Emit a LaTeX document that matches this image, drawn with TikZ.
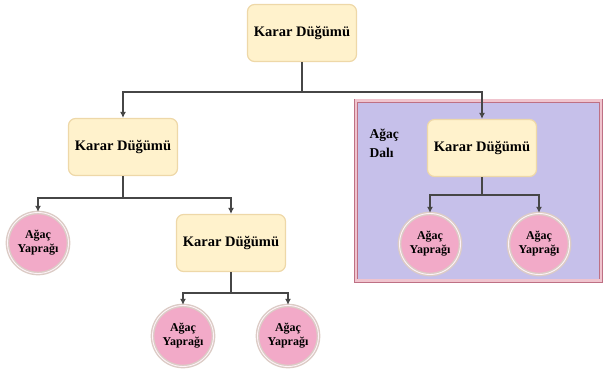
\documentclass[tikz,border=0pt]{standalone}
\usepackage{fontspec}
\setmainfont{Liberation Serif}
\usetikzlibrary{arrows.meta}
\definecolor{kararfill}{RGB}{255,242,204}
\definecolor{kararline}{RGB}{238,216,168}
\definecolor{yaprakfill}{RGB}{242,170,200}
\definecolor{yaprakring}{RGB}{220,204,198}
\definecolor{dalfill}{RGB}{198,192,234}
\definecolor{dalline}{RGB}{190,112,132}
\definecolor{dalinner}{RGB}{240,196,206}
\definecolor{okline}{RGB}{70,70,70}

\begin{document}
\begin{tikzpicture}[x=1pt,y=-1pt,>={Latex[length=6pt,width=6pt]},
  karar/.style={draw=kararline, fill=kararfill, rounded corners=7pt,
    line width=1.2pt, minimum width=109pt, minimum height=57pt,
    font=\bfseries\fontsize{14.5}{16}\selectfont},
  yaprak/.style={circle, fill=yaprakfill, draw=yaprakring, line width=1.4pt,
    double=white!85!yaprakfill, double distance=0.9pt, minimum size=61pt,
    inner sep=0pt, align=center, font=\bfseries\fontsize{12}{14}\selectfont},
  ok/.style={->, okline, line width=1.3pt}]
  \useasboundingbox (0,0) rectangle (605,370);
  % branch box
  \node[draw=dalline, fill=dalfill, line width=0.9pt, double=dalinner,
    double distance=2.2pt, minimum width=245pt, minimum height=180pt]
    (dal) at (478.5,190.5) {};
  \node[anchor=north west, align=left, font=\bfseries\fontsize{13.5}{19}\selectfont]
    (dalad) at (366,125) {Ağaç\\Dalı};
  % decision nodes
  \node[karar] (k0) at (302,33)  {Karar Düğümü};
  \node[karar] (k1) at (123,147) {Karar Düğümü};
  \node[karar] (k2) at (231,243) {Karar Düğümü};
  \node[karar] (k3) at (482,148) {Karar Düğümü};
  % leaves
  \node[yaprak] (y1) at (38,243)  {Ağaç\\Yaprağı};
  \node[yaprak] (y2) at (183,336) {Ağaç\\Yaprağı};
  \node[yaprak] (y3) at (288,336) {Ağaç\\Yaprağı};
  \node[yaprak] (y4) at (430,244) {Ağaç\\Yaprağı};
  \node[yaprak] (y5) at (539,244) {Ağaç\\Yaprağı};
  % junctions
  \coordinate (j0) at (302,92);
  \coordinate (j1) at (123,198);
  \coordinate (j2) at (231,293);
  \coordinate (j3) at (482,195);
  \draw[okline, line width=1.3pt] (k0) -- (j0);
  \draw[ok] (j0) -| (k1);
  \draw[ok] (j0) -| (k3);
  \draw[okline, line width=1.3pt] (k1) -- (j1);
  \draw[ok] (j1) -| (y1);
  \draw[ok] (j1) -| (k2);
  \draw[okline, line width=1.3pt] (k2) -- (j2);
  \draw[ok] (j2) -| (y2);
  \draw[ok] (j2) -| (y3);
  \draw[okline, line width=1.3pt] (k3) -- (j3);
  \draw[ok] (j3) -| (y4);
  \draw[ok] (j3) -| (y5);
\end{tikzpicture}
\end{document}
